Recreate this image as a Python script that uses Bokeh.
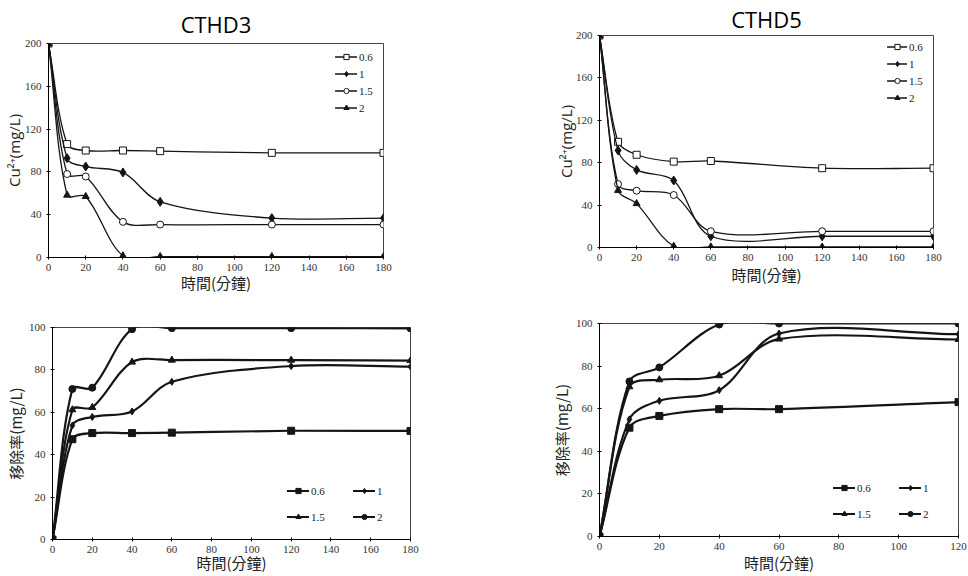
import numpy as np
from bokeh.plotting import figure
from bokeh.models import Range1d, SingleIntervalTicker, Legend, LegendItem
from bokeh.embed import file_html
from bokeh.resources import INLINE

# ---------------- data ----------------
time_full = [0, 10, 20, 40, 60, 120, 180]
time_short = [0, 10, 20, 40, 60, 120]
series_labels = ["0.6", "1", "1.5", "2"]

# CTHD3 Cu2+ concentration (mg/L)
cthd3_cu_06 = [200, 106, 100, 100, 99.4, 97.8, 97.8]
cthd3_cu_1 = [200, 92.8, 85, 79.5, 52, 36.8, 36.8]
cthd3_cu_15 = [200, 78, 75.7, 33.3, 30.8, 30.8, 30.8]
cthd3_cu_2 = [200, 58.3, 57, 1.6, 0.9, 0.9, 0.9]

# CTHD5 Cu2+ concentration (mg/L)
cthd5_cu_06 = [200, 99.7, 87.5, 81, 81.6, 74.8, 74.8]
cthd5_cu_1 = [200, 91.6, 73.2, 63.2, 10.6, 10.6, 10.6]
cthd5_cu_15 = [200, 59.8, 53.6, 49.5, 15.3, 15.3, 15.3]
cthd5_cu_2 = [200, 53.9, 41.4, 1.2, 0.6, 0.5, 0.5]

# CTHD3 removal
cthd3_rm_06 = [0, 47.3, 50.2, 50.2, 50.4, 51.3, 51.2]
cthd3_rm_1 = [0, 53.8, 57.8, 60.4, 74.4, 81.8, 81.5]
cthd3_rm_15 = [0, 61.2, 62.3, 83.7, 84.6, 84.6, 84.4]
cthd3_rm_2 = [0, 71, 71.6, 99.2, 99.7, 99.7, 99.6]

# CTHD5 removal
cthd5_rm_06 = [0, 51.1, 56.6, 59.8, 59.8, 63.1]
cthd5_rm_1 = [0, 55, 63.7, 68.7, 95.3, 95]
cthd5_rm_15 = [0, 70.3, 73.6, 75.5, 92.7, 92.5]
cthd5_rm_2 = [0, 72.8, 79.4, 99.5, 100, 100]

x_title = "時間(分鐘)"
y_title_cu = "Cu²⁺(mg/L)"
y_title_rm = "移除率(mg/L)"

LINE = "#151515"


def smooth_segments(xs, ys, sx, sy):
    """Bezier control points for a smoothed line (spreadsheet style): tangent at each
    point is P[i+1]-P[i-1], split in proportion to the on-screen segment lengths."""
    x = np.asarray(xs, float)
    y = np.asarray(ys, float)
    d = np.hypot(np.diff(x) * sx, np.diff(y) * sy)
    a = np.concatenate([[0.0], d])          # length of segment before each point
    b = np.concatenate([d, [0.0]])          # length of segment after each point
    xp = np.concatenate([[x[0]], x, [x[-1]]])
    yp = np.concatenate([[y[0]], y, [y[-1]]])
    tx = xp[2:] - xp[:-2]
    ty = yp[2:] - yp[:-2]
    w = a + b
    fo = b / w / 3.0
    fi = a / w / 3.0
    out_x, out_y = x + tx * fo, y + ty * fo
    in_x, in_y = x - tx * fi, y - ty * fi
    return dict(
        x0=x[:-1], y0=y[:-1], x1=x[1:], y1=y[1:],
        cx0=out_x[:-1], cy0=out_y[:-1], cx1=in_x[1:], cy1=in_y[1:],
    )


def make_fig(left, top, width, height, xmax, ymax, ystep, bl, br, bt, bb):
    p = figure(width=width, height=height, x_range=Range1d(0, xmax), y_range=Range1d(0, ymax),
               output_backend="svg", toolbar_location=None,
               min_border_left=bl, min_border_right=br, min_border_top=bt, min_border_bottom=bb)
    p.styles = {"position": "absolute", "left": f"{left}px", "top": f"{top}px"}
    p.xgrid.visible = False
    p.ygrid.visible = False
    p.outline_line_color = "#444444"
    p.outline_line_width = 1
    p.background_fill_color = "white"
    p.border_fill_color = "white"
    p.xaxis.ticker = SingleIntervalTicker(interval=20)
    p.yaxis.ticker = SingleIntervalTicker(interval=ystep)
    for ax in (p.xaxis[0], p.yaxis[0]):
        ax.axis_line_color = "black"
        ax.major_tick_line_color = "black"
        ax.major_tick_in = 2
        ax.major_tick_out = 2
        ax.minor_tick_line_color = None
        ax.major_label_text_font = "Liberation Serif"
        ax.major_label_text_font_size = "11px"
        ax.major_label_text_color = "#333333"
        ax.axis_label_text_font_style = "normal"
        ax.axis_label_text_color = "#222222"
    p.xaxis.major_label_standoff = 2
    p.yaxis.major_label_standoff = 3
    return p


def add_series(p, xs, ys, marker, size, fill, lw, sx, sy):
    seg = smooth_segments(xs, ys, sx, sy)
    r1 = p.bezier(line_color=LINE, line_width=lw, line_cap="round", **seg)
    r2 = p.scatter(xs, ys, marker=marker, size=size, fill_color=fill,
                   line_color=LINE, line_width=1)
    return [r1, r2]


top_markers = [("square", 7, "white"), ("diamond", 9, LINE), ("circle", 7, "white"), ("triangle", 7, LINE)]
bot_markers = [("square", 7, LINE), ("diamond", 7, LINE), ("triangle", 7, LINE), ("circle", 7, LINE)]


def top_panel(left, top, width, height, bl, br, bt, bb, series, title, title_standoff,
              leg_xy, glyph_w, ylab_standoff, xlab_standoff):
    p = make_fig(left, top, width, height, 180, 200, 40, bl, br, bt, bb)
    sx = (width - bl - br) / 180.0
    sy = (height - bt - bb) / 200.0
    items = []
    for lab, ys, (mk, sz, fc) in zip(series_labels, series, top_markers):
        rs = add_series(p, time_full, ys, mk, sz, fc, 1.3, sx, sy)
        items.append(LegendItem(label=lab, renderers=rs))
    leg = Legend(items=items, location=leg_xy, orientation="vertical",
                 border_line_color=None, background_fill_alpha=0, padding=0, margin=0,
                 spacing=4, glyph_width=glyph_w, glyph_height=13, label_height=13, label_standoff=2,
                 label_text_font="Liberation Serif", label_text_font_size="11px",
                 label_text_color="#222222")
    p.add_layout(leg)
    p.yaxis.axis_label = y_title_cu
    p.yaxis.axis_label_text_font = "Open Sans"
    p.yaxis.axis_label_text_font_size = "15px"
    p.yaxis.axis_label_standoff = ylab_standoff
    p.xaxis.axis_label = x_title
    p.xaxis.axis_label_text_font = "Noto Sans CJK TC"
    p.xaxis.axis_label_text_font_size = "15px"
    p.xaxis.axis_label_standoff = xlab_standoff
    p.title.text = title
    p.title.text_font = "Open Sans"
    p.title.text_font_size = "22px"
    p.title.text_font_style = "normal"
    p.title.align = "center"
    p.title.standoff = title_standoff
    p.title.text_color = "black"
    return p


def bottom_panel(left, top, width, height, xmax, xs, bl, br, bt, bb, series, leg_xy,
                 ylab_standoff, xlab_standoff):
    p = make_fig(left, top, width, height, xmax, 100, 20, bl, br, bt, bb)
    sx = (width - bl - br) / float(xmax)
    sy = (height - bt - bb) / 100.0
    items = []
    for lab, ys, (mk, sz, fc) in zip(series_labels, series, bot_markers):
        rs = add_series(p, xs, ys, mk, sz, fc, 2.2, sx, sy)
        items.append(LegendItem(label=lab, renderers=rs))
    leg = Legend(items=items, location=leg_xy, orientation="horizontal", ncols=2,
                 border_line_color=None, background_fill_alpha=0, padding=0, margin=0,
                 spacing=13, glyph_width=22, glyph_height=13, label_height=13, label_width=29,
                 label_standoff=2, label_text_font="Liberation Serif", label_text_font_size="11px",
                 label_text_color="#222222")
    p.add_layout(leg)
    p.yaxis.axis_label = y_title_rm
    p.yaxis.axis_label_text_font = "Noto Sans CJK TC"
    p.yaxis.axis_label_text_font_size = "15px"
    p.yaxis.axis_label_standoff = ylab_standoff
    p.xaxis.axis_label = x_title
    p.xaxis.axis_label_text_font = "Noto Sans CJK TC"
    p.xaxis.axis_label_text_font_size = "15px"
    p.xaxis.axis_label_standoff = xlab_standoff
    return p


# top-left: frame x 48..383, y 43..257
p1 = top_panel(0, 0, 540, 296, 48, 157, 43, 39,
               [cthd3_cu_06, cthd3_cu_1, cthd3_cu_15, cthd3_cu_2],
               "CTHD3", 10, (287, 143), 22, -2, -2)
# top-right: frame x 599..933, y 33..247
p2 = top_panel(540, 0, 428, 296, 59, 35, 33, 49,
               [cthd5_cu_06, cthd5_cu_1, cthd5_cu_15, cthd5_cu_2],
               "CTHD5", 3, (288, 143), 20, -3, 0)
# bottom-left: frame x 52..410, y 327..539
p3 = bottom_panel(0, 296, 540, 280, 180, time_full, 52, 130, 31, 37,
                  [cthd3_rm_06, cthd3_rm_1, cthd3_rm_15, cthd3_rm_2], (235, 16), 0, -4)
# bottom-right: frame x 599..958, y 323..536
p4 = bottom_panel(540, 296, 428, 280, 120, time_short, 59, 10, 27, 40,
                  [cthd5_rm_06, cthd5_rm_1, cthd5_rm_15, cthd5_rm_2], (234, 16), 1, -1)

open("out.html", "w").write(file_html([p1, p2, p3, p4], INLINE))
